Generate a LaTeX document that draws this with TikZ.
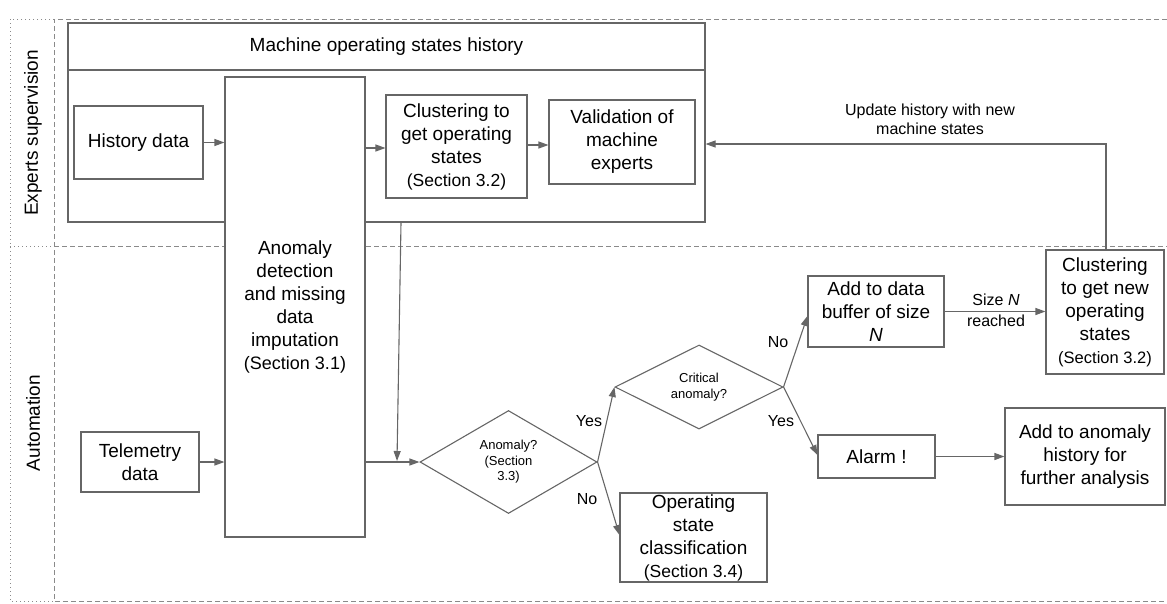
\documentclass[tikz,border=0pt]{standalone}
\usepackage{fontspec}
\setmainfont{Liberation Sans}
\usetikzlibrary{shapes.geometric,arrows.meta,calc}
\definecolor{lc}{HTML}{666666}
\definecolor{dc}{HTML}{8A8A8A}
\begin{document}
\begin{tikzpicture}[x=1pt,y=-1pt,
  box/.style={draw=lc,line width=1.1pt,align=center,inner sep=0pt,font=\fontsize{19}{23}\selectfont},
  dia/.style={draw=lc,line width=1.1pt,diamond,align=center,inner sep=0pt,font=\fontsize{13}{15.5}\selectfont},
  conn/.style={draw=lc,line width=1.1pt,-{Triangle[length=10pt,width=7pt]}},
  lbl/.style={font=\fontsize{16}{19}\selectfont,align=center,inner sep=0pt},
  sec/.style={font=\fontsize{17.5}{21}\selectfont},
  lane/.style={dc,line width=1pt,dash pattern=on 5pt off 3pt},
  dots/.style={dc,line width=1pt,dash pattern=on 1pt off 3pt}]
\useasboundingbox (0,0) rectangle (1167,603);
% lanes
\draw[dots] (54,19) -- (10,19) -- (10,601) -- (54,601);
\draw[dots] (10,246) -- (54,246);
\draw[lane] (1167,19) -- (54,19) -- (54,601) -- (1167,601);
\draw[lane] (54,246) -- (1167,246);
\node[rotate=90,font=\fontsize{19}{23}\selectfont] (lexp) at (33,133) {Experts supervision};
\node[rotate=90,font=\fontsize{19}{23}\selectfont] (laut) at (33,423) {Automation};
% history container
\node[draw=lc,line width=1.1pt,minimum width=637pt,minimum height=199pt,inner sep=0pt,fill=white] (hist) at (386.5,122.5) {};
\draw[lc,line width=1.1pt] (hist.west |- 0,70) -- (hist.east |- 0,70);
\node[font=\fontsize{19}{23}\selectfont] (htitle) at (386.5,47) {Machine operating states history};
% boxes
\node[box,fill=white,minimum width=129pt,minimum height=73pt] (hd) at (138.5,142.5) {History data};
\node[box,fill=white,minimum width=140pt,minimum height=460pt] (adi) at (295,307) {Anomaly\\detection\\and missing\\data\\imputation\\{\fontsize{18}{21}\selectfont(Section 3.1)}};
\node[box,minimum width=141pt,minimum height=103pt] (clu) at (456.5,146.5) {Clustering to\\get operating\\states\\{\fontsize{17.5}{21}\selectfont(Section 3.2)}};
\node[box,minimum width=146pt,minimum height=84pt] (val) at (622,142) {Validation of\\machine\\experts};
\node[box,minimum width=118pt,minimum height=60pt] (tel) at (140,462) {Telemetry\\data};
\node[dia,minimum width=177pt,minimum height=103pt] (da) at (508.5,462) {Anomaly?\\(Section\\3.3)};
\node[dia,minimum width=168pt,minimum height=72pt] (dc) at (699,387) {Critical\\anomaly?};
\node[box,minimum width=147pt,minimum height=89pt] (op) at (693.5,537.5) {Operating\\state\\classification\\{\fontsize{17.5}{21}\selectfont(Section 3.4)}};
\node[box,minimum width=136pt,minimum height=71pt] (buf) at (876,311.5) {Add to data\\buffer of size\\\textit{N}};
\node[box,minimum width=118pt,minimum height=124pt] (cn) at (1105,312) {Clustering\\to get new\\operating\\states\\{\fontsize{16.5}{20}\selectfont(Section 3.2)}};
\node[box,minimum width=117pt,minimum height=43pt] (al) at (876.5,456.5) {Alarm !};
\node[box,minimum width=160pt,minimum height=97pt] (aah) at (1085,456.5) {Add to anomaly\\history for\\further analysis};
% connectors
\draw[conn] (hd.east) -- (adi.west |- hd.east);
\draw[conn] (adi.east |- 0,148) -- (clu.west |- 0,148);
\draw[conn] (clu.east |- 0,145) -- (val.west |- 0,145);
\coordinate (vtop) at (401,222.5);
\coordinate (vbot) at (397,461);
\draw[conn] (vtop) -- (vbot);
\draw[conn] (tel.east) -- (adi.west |- tel.east);
\draw[conn] (adi.east |- da.west) -- (da.west);
\draw[conn] (da.east) -- (dc.west);
\draw[conn] (da.east) -- (op.west |- 0,535);
\draw[conn] (dc.east) -- (buf.west |- 0,316);
\draw[conn] (dc.east) -- (al.west |- 0,455);
\draw[conn] (al.east) -- (aah.west |- al.east);
\draw[conn] (buf.east) -- (cn.west |- buf.east);
\draw[conn] (cn.north -| 1106,0) -- (1106,144) -- (hist.east |- 0,144);
% labels
\node[lbl] (lyes1) at (589,421) {Yes};
\node[lbl] (lno1) at (587,499) {No};
\node[lbl] (lno2) at (778,342) {No};
\node[lbl] (lyes2) at (781,421) {Yes};
\node[lbl] (lsize) at (996,300) {Size \textit{N}};
\node[lbl] (lreach) at (996,321) {reached};
\node[lbl] (lupd) at (930,119.5) {Update history with new\\machine states};
\end{tikzpicture}
\end{document}
